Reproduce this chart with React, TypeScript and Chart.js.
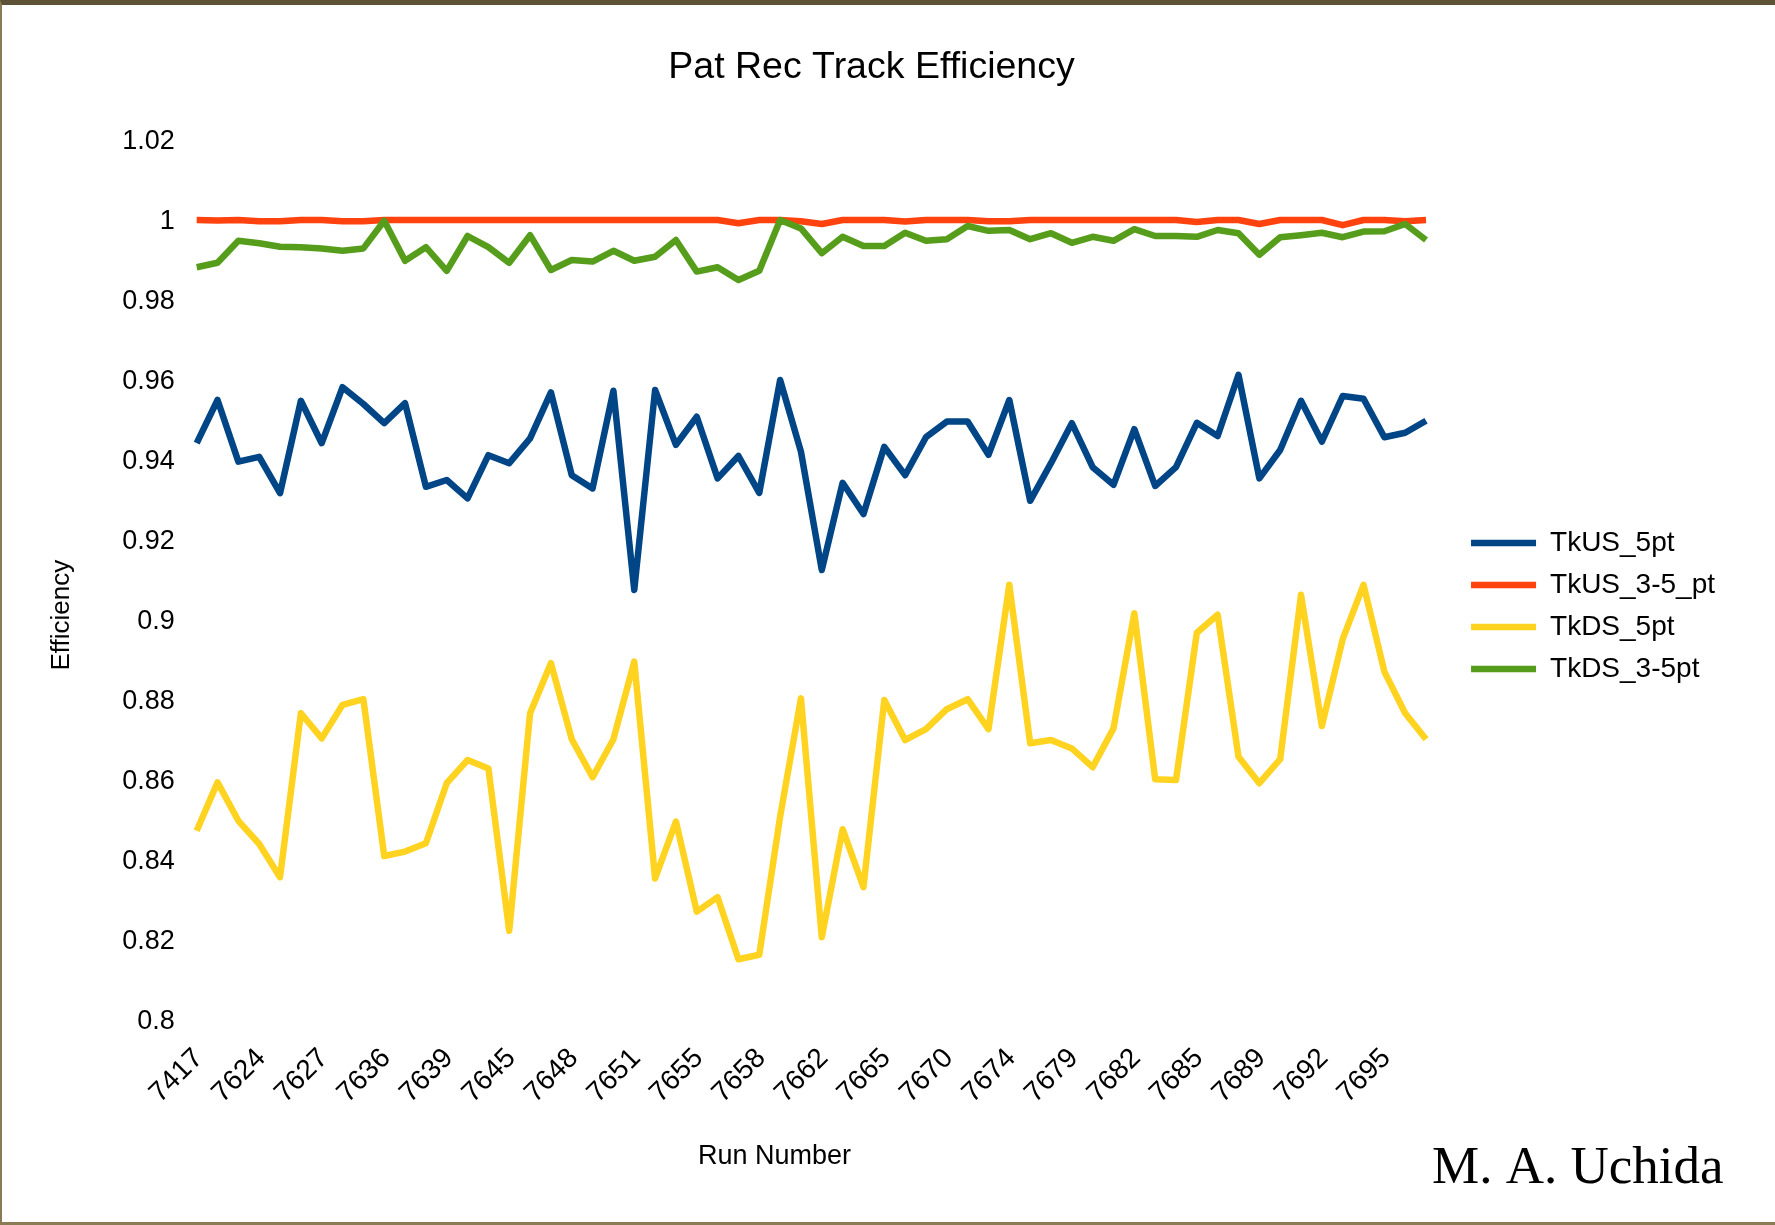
import { useEffect, useRef } from 'react';
import { Chart, registerables } from 'chart.js';

Chart.register(...registerables);

const TITLE = 'Pat Rec Track Efficiency';
const X_TITLE = 'Run Number';
const Y_TITLE = 'Efficiency';
const CREDIT = 'M. A. Uchida';

// Run numbers printed on the axis (every third run is labelled)
const tickRuns = [
  '7417', '7624', '7627', '7636', '7639', '7645', '7648', '7651', '7655', '7658',
  '7662', '7665', '7670', '7674', '7679', '7682', '7685', '7689', '7692', '7695',
];
const RUN_COUNT = 60;
const runLabels = Array.from({ length: RUN_COUNT }, (_, i) => (i % 3 === 0 ? tickRuns[i / 3] : ''));

const seriesNames = ['TkUS_5pt', 'TkUS_3-5_pt', 'TkDS_5pt', 'TkDS_3-5pt'];
const seriesColors = ['#004586', '#ff420e', '#ffd320', '#579d1c'];

const tkUS5pt = [
  0.9442, 0.955, 0.9396, 0.9408, 0.9317, 0.9548, 0.9442, 0.9582, 0.954, 0.9492,
  0.9542, 0.9333, 0.935, 0.9304, 0.9412, 0.9392, 0.9454, 0.9569, 0.9362, 0.9329,
  0.9573, 0.9075, 0.9575, 0.9438, 0.9508, 0.9354, 0.941, 0.9318, 0.96, 0.9421,
  0.9125, 0.9343, 0.9265, 0.9433, 0.9362, 0.9457, 0.9496, 0.9496, 0.9413, 0.955,
  0.9298, 0.9392, 0.9492, 0.9382, 0.9338, 0.9477, 0.9335, 0.9382, 0.9493, 0.946,
  0.9613, 0.9354, 0.9425, 0.9548, 0.9446, 0.956, 0.9553, 0.9457, 0.9468, 0.9498,
];

const tkUS35pt = [
  1.0, 0.9999, 1.0, 0.9997, 0.9997, 1.0, 1.0, 0.9997, 0.9997, 1.0,
  1.0, 1.0, 1.0, 1.0, 1.0, 1.0, 1.0, 1.0, 1.0, 1.0,
  1.0, 1.0, 1.0, 1.0, 1.0, 1.0, 0.9992, 1.0, 1.0, 0.9997,
  0.999, 1.0, 1.0, 1.0, 0.9996, 1.0, 1.0, 1.0, 0.9997, 0.9997,
  1.0, 1.0, 1.0, 1.0, 1.0, 1.0, 1.0, 1.0, 0.9995, 1.0,
  1.0, 0.999, 1.0, 1.0, 1.0, 0.9987, 1.0, 1.0, 0.9997, 1.0,
];

const tkDS5pt = [
  0.8473, 0.8594, 0.8498, 0.844, 0.8357, 0.8767, 0.8704, 0.8788, 0.8802, 0.841,
  0.8421, 0.8442, 0.8592, 0.865, 0.8629, 0.8223, 0.8767, 0.8892, 0.8702, 0.8607,
  0.8702, 0.8896, 0.8354, 0.8496, 0.8271, 0.8307, 0.8152, 0.8163, 0.8508, 0.8804,
  0.8207, 0.8477, 0.8332, 0.88, 0.87, 0.8727, 0.8777, 0.8802, 0.8727, 0.9088,
  0.8692, 0.87, 0.8679, 0.8632, 0.8729, 0.9017, 0.8602, 0.86, 0.8968, 0.9013,
  0.8658, 0.8592, 0.8652, 0.9063, 0.8735, 0.8952, 0.9088, 0.8871, 0.8767, 0.8702,
];

const tkDS35pt = [
  0.9882, 0.9893, 0.9948, 0.9942, 0.9933, 0.9932, 0.9929, 0.9923, 0.9929, 0.9998,
  0.9898, 0.9932, 0.9873, 0.996, 0.9932, 0.9893, 0.9962, 0.9875, 0.99, 0.9896,
  0.9923, 0.9898, 0.9908, 0.995, 0.9871, 0.9882, 0.985, 0.9873, 1.0, 0.9979,
  0.9917, 0.9958, 0.9935, 0.9935, 0.9968, 0.9948, 0.9952, 0.9985, 0.9973, 0.9975,
  0.9952, 0.9967, 0.9943, 0.9958, 0.9948, 0.9977, 0.996, 0.996, 0.9958, 0.9975,
  0.9967, 0.9913, 0.9957, 0.9962, 0.9968, 0.9957, 0.9971, 0.9972, 0.999, 0.995,
];

const seriesValues = [tkUS5pt, tkUS35pt, tkDS5pt, tkDS35pt];

const Y_MIN = 0.8;
const Y_MAX = 1.02;
const Y_STEP = 0.02;

const SANS = "'Liberation Sans', Arial, sans-serif";
const SERIF = "'Liberation Serif', 'Times New Roman', serif";

const pageTexts = {
  id: 'pageTexts',
  afterDraw(chart: any) {
    const { ctx, chartArea } = chart;
    const w = chartArea.right - chartArea.left;
    const h = chartArea.bottom - chartArea.top;
    ctx.save();
    ctx.fillStyle = '#000';
    ctx.textAlign = 'center';
    ctx.textBaseline = 'middle';
    ctx.font = `27px ${SANS}`;
    ctx.fillText(X_TITLE, chartArea.left + w * 0.47, chartArea.bottom + 137);
    ctx.save();
    ctx.translate(chartArea.left - 135, chartArea.top + h * 0.54);
    ctx.rotate(-Math.PI / 2);
    ctx.font = `26px ${SANS}`;
    ctx.fillText(Y_TITLE, 0, 0);
    ctx.restore();
    ctx.font = `53px ${SERIF}`;
    ctx.textAlign = 'left';
    ctx.textBaseline = 'alphabetic';
    ctx.fillText(CREDIT, 1432, 1183);
    ctx.restore();
  },
};

export default function App() {
  const canvasRef = useRef<HTMLCanvasElement | null>(null);

  useEffect(() => {
    if (!canvasRef.current) return;
    const datasets = seriesNames.map((name, i) => ({
      label: name,
      data: seriesValues[i],
      borderColor: seriesColors[i],
      backgroundColor: seriesColors[i],
      borderWidth: 6.5,
      borderJoinStyle: 'round',
      pointRadius: 0,
      pointHoverRadius: 0,
      tension: 0,
      fill: false,
      order: seriesNames.length - i,
    }));

    const chart = new Chart(canvasRef.current, {
      type: 'line',
      data: { labels: runLabels, datasets },
      plugins: [pageTexts],
      options: {
        responsive: false,
        animation: false,
        devicePixelRatio: 1,
        layout: { padding: { left: 18, right: 50, top: 0, bottom: 13 } },
        plugins: {
          title: {
            display: true,
            text: TITLE,
            color: '#000',
            font: { family: SANS, size: 37.5, weight: 'normal' },
            padding: { top: 45.5, bottom: 49.5 },
          },
          legend: {
            position: 'right',
            align: 'center',
            labels: {
              usePointStyle: true,
              pointStyle: 'line',
              pointStyleWidth: 65,
              padding: 14,
              color: '#000',
              font: { family: SANS, size: 28 },
              sort: (a: any, b: any) => a.datasetIndex - b.datasetIndex,
            },
          },
          tooltip: { enabled: false },
        },
        scales: {
          x: {
            type: 'category',
            grid: { display: false, drawTicks: false },
            border: { display: false },
            ticks: {
              autoSkip: false,
              maxRotation: 45,
              minRotation: 45,
              padding: 22,
              labelOffset: 2,
              color: '#000',
              font: { family: SANS, size: 28 },
            },
            afterFit: (s: any) => {
              s.height = 192;
            },
          },
          y: {
            type: 'linear',
            min: Y_MIN,
            max: Y_MAX,
            grid: { display: false, drawTicks: false },
            border: { display: false },
            ticks: {
              stepSize: Y_STEP,
              padding: 22,
              labelOffset: 2,
              color: '#000',
              font: { family: SANS, size: 27 },
              callback: (v: any) => String(parseFloat(Number(v).toFixed(2))),
            },
            afterFit: (s: any) => {
              s.width = 178.7;
            },
          },
          y2: {
            type: 'linear',
            position: 'right',
            display: true,
            grid: { display: false, drawTicks: false },
            border: { display: false },
            ticks: { display: false },
            afterFit: (s: any) => {
              s.width = 31;
            },
          },
        },
      } as any,
    });
    return () => chart.destroy();
  }, []);

  return (
    <div
      style={{
        position: 'absolute',
        left: 0,
        top: 0,
        width: 1775,
        height: 1225,
        background: '#fff',
        overflow: 'hidden',
      }}
    >
      <canvas ref={canvasRef} width={1775} height={1225} style={{ display: 'block', width: 1775, height: 1225 }} />
      <div
        style={{
          position: 'absolute',
          left: 0,
          top: 0,
          width: 1775,
          height: 1225,
          boxSizing: 'border-box',
          borderTop: '5px solid #5e5236',
          borderLeft: '2px solid #8b7b55',
          borderBottom: '3px solid #8b7b55',
          pointerEvents: 'none',
        }}
      />
    </div>
  );
}
